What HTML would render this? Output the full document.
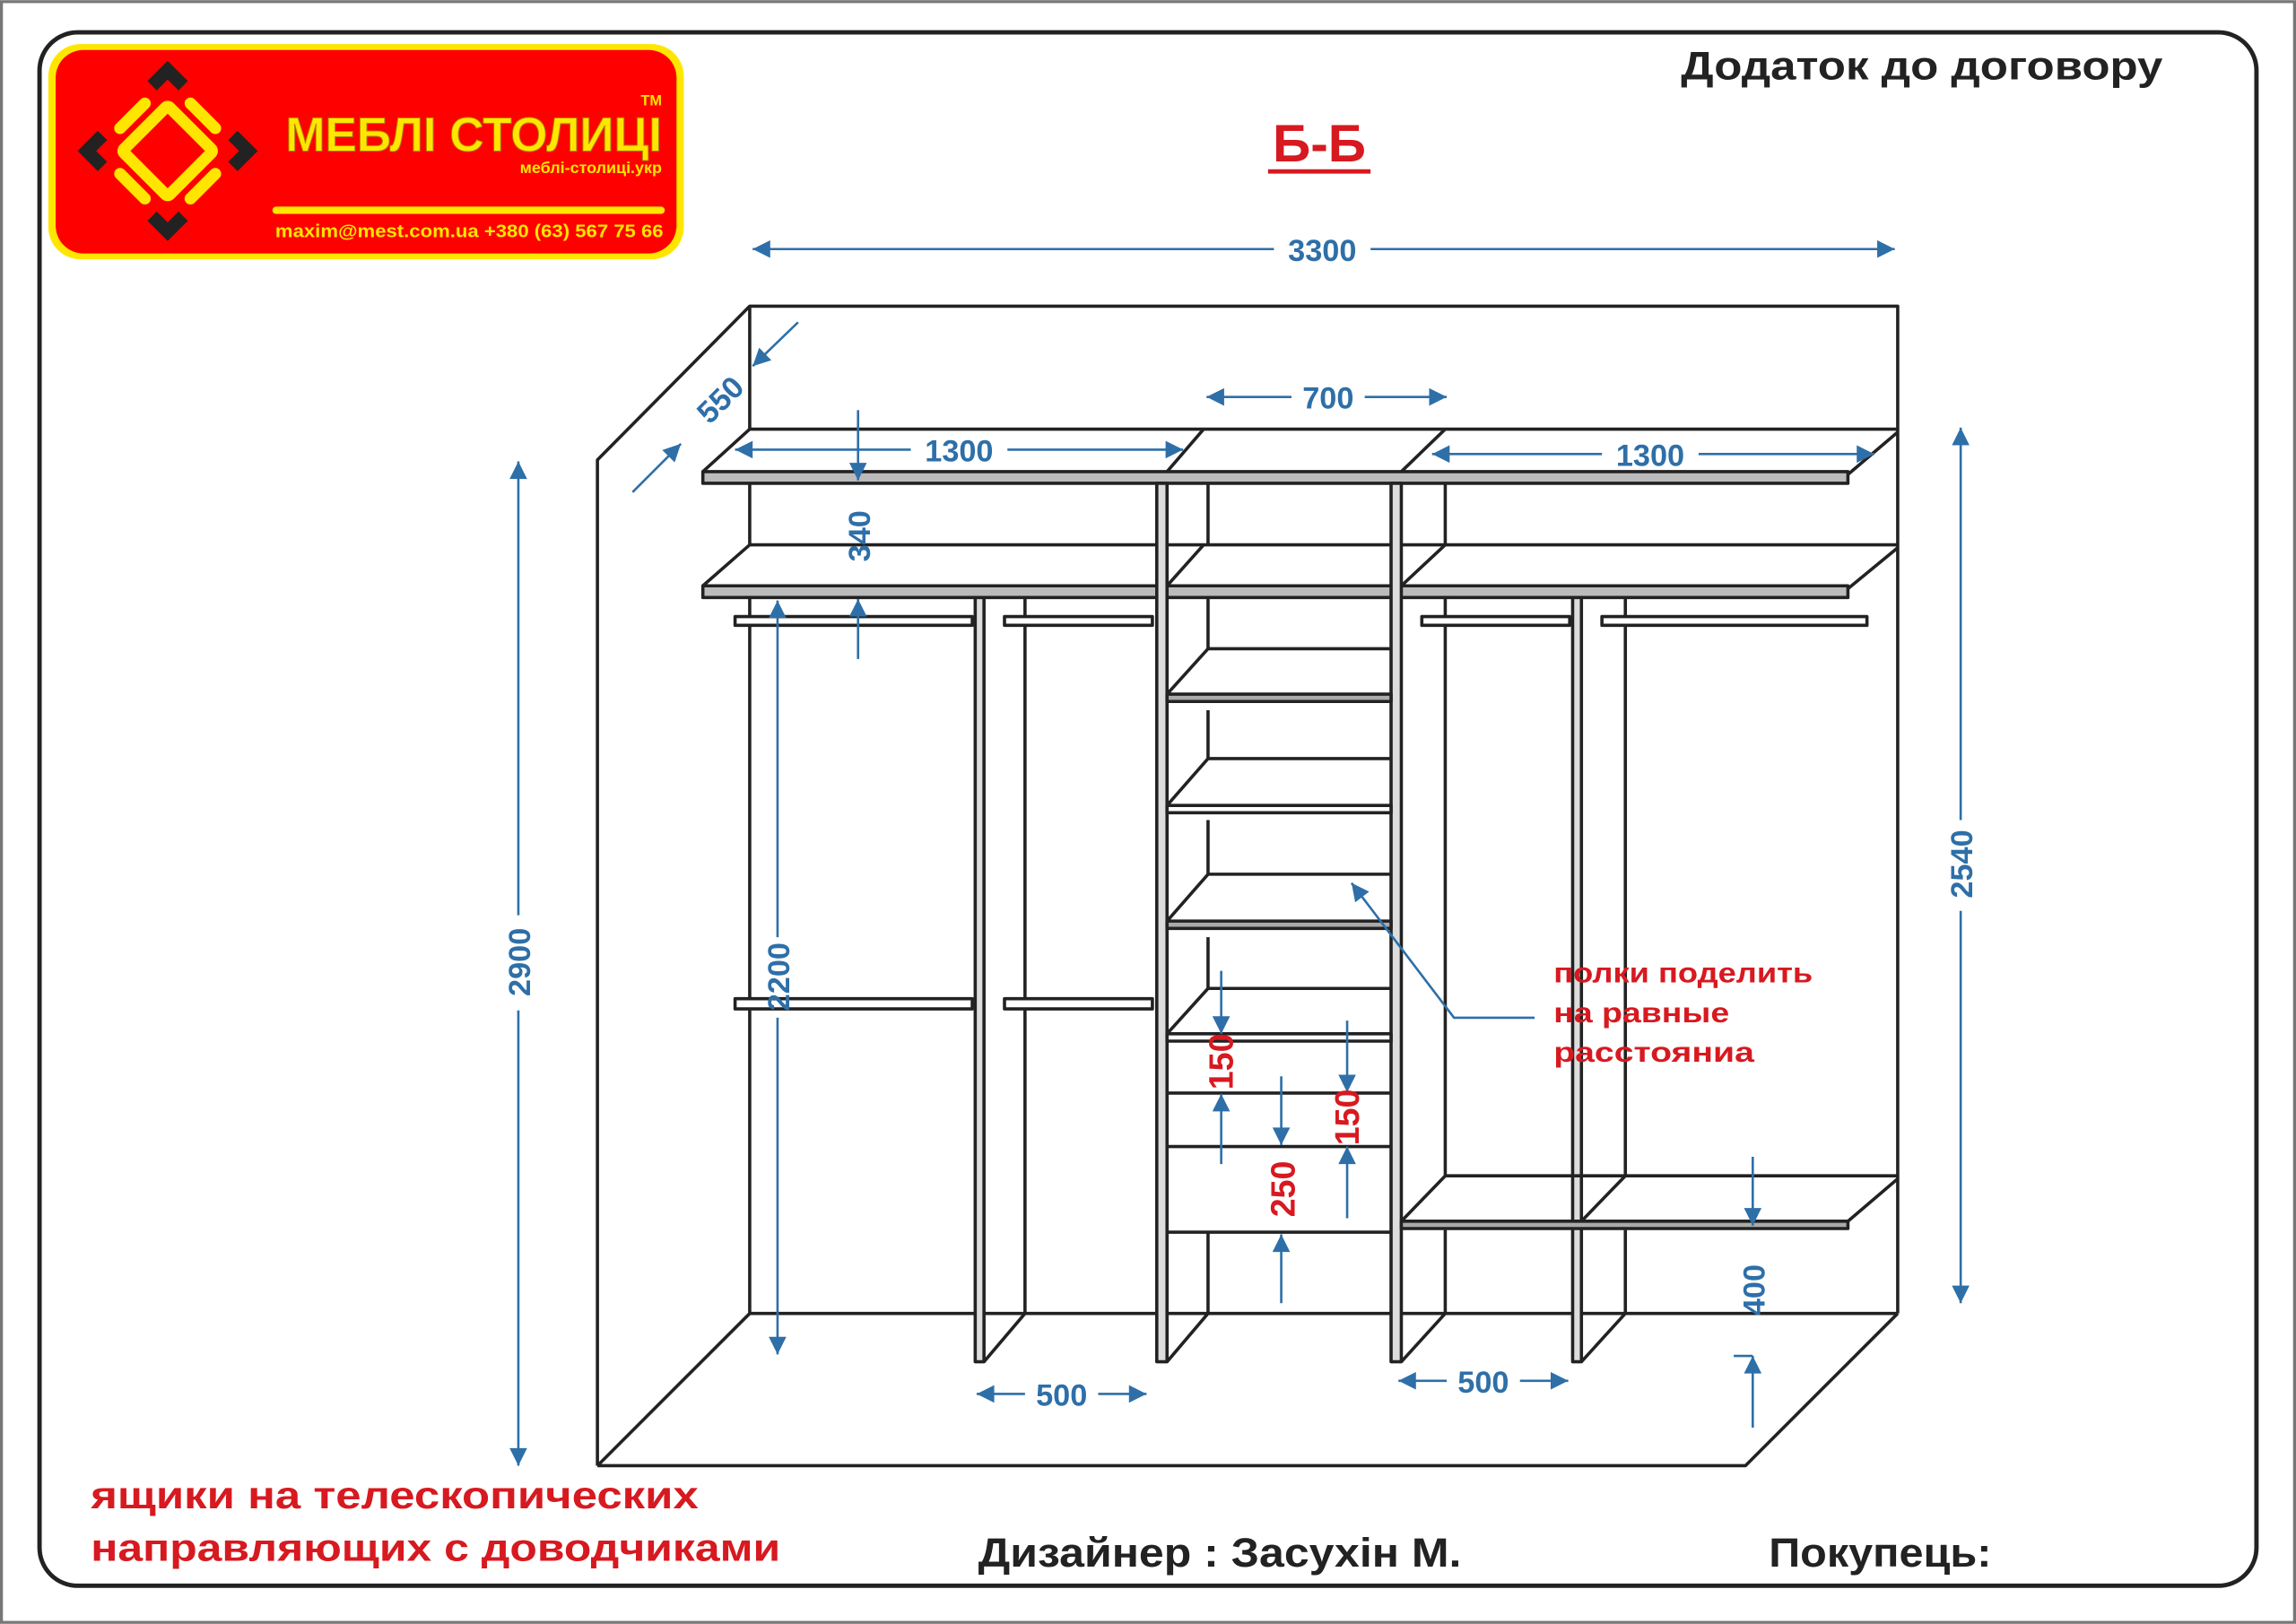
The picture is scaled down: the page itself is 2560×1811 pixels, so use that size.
<!DOCTYPE html>
<html><head><meta charset="utf-8"><style>
html,body{margin:0;padding:0;background:#fff;}
svg{display:block;}
text{font-family:"Liberation Sans","DejaVu Sans",sans-serif;font-weight:bold;}
</style></head><body>
<svg width="2560" height="1811" viewBox="0 0 1568 1109" xmlns="http://www.w3.org/2000/svg">
<defs>
<marker id="b" viewBox="0 0 10 10" refX="10" refY="5" markerWidth="18" markerHeight="12" orient="auto-start-reverse" markerUnits="userSpaceOnUse">
<path d="M0,0 L10,5 L0,10 z" fill="#2e6fa8"/></marker>
</defs>
<rect x="1" y="1" width="1566" height="1107" fill="#fff" stroke="#777" stroke-width="2"/>
<rect x="27" y="22" width="1514" height="1061" rx="26" fill="#fff" stroke="#222" stroke-width="3"/>

<!-- logo -->
<rect x="33" y="30" width="434" height="147" rx="22" fill="#ffe600"/>
<rect x="38" y="34" width="424" height="139" rx="19" fill="#ff0000"/>
<g transform="translate(114.5,103) rotate(45)">
<rect x="-22" y="-22" width="44" height="44" rx="2" fill="none" stroke="#ffe600" stroke-width="8"/>
<g stroke="#ffe600" stroke-width="8" stroke-linecap="round">
<line x1="-12" y1="-34" x2="12" y2="-34"/><line x1="-12" y1="34" x2="12" y2="34"/>
<line x1="-34" y1="-12" x2="-34" y2="12"/><line x1="34" y1="-12" x2="34" y2="12"/>
</g>
<g stroke="#222" stroke-width="9" fill="none">
<polyline points="-39,-24 -39,-39 -24,-39"/><polyline points="24,-39 39,-39 39,-24"/>
<polyline points="39,24 39,39 24,39"/><polyline points="-24,39 -39,39 -39,24"/>
</g>
</g>
<text x="452" y="103" font-size="33" fill="#ffe600" text-anchor="end" stroke="#b08000" stroke-width="0.6" textLength="257" lengthAdjust="spacingAndGlyphs">МЕБЛІ СТОЛИЦІ</text>
<text x="452" y="72" font-size="10" fill="#ffe600" text-anchor="end" font-weight="normal">TM</text>
<text x="452" y="118" font-size="11" fill="#ffe600" text-anchor="end">меблі-столиці.укр</text>
<rect x="186" y="141" width="268" height="5" rx="2.5" fill="#ffe600"/>
<text x="453" y="162" font-size="12.5" fill="#ffe600" text-anchor="end" textLength="265" lengthAdjust="spacingAndGlyphs">maxim@mest.com.ua  +380 (63) 567 75 66</text>

<!-- headings -->
<text x="1148" y="54" font-size="27" fill="#222" textLength="329" lengthAdjust="spacingAndGlyphs">Додаток до договору</text>
<text x="901" y="110" font-size="36" fill="#d71920" text-anchor="middle">Б-Б</text>
<line x1="866" y1="117" x2="936" y2="117" stroke="#d71920" stroke-width="3"/>

<!-- cabinet -->
<g stroke="#222" stroke-width="2.2" fill="none" stroke-linejoin="round">
<polyline points="408,1001 408,314 512,209 1296,209 1296,897"/>
<polyline points="408,1001 1192,1001 1296,897"/>
<line x1="512" y1="209" x2="512" y2="293"/>
<line x1="512" y1="330" x2="512" y2="372"/>
<line x1="512" y1="408" x2="512" y2="897"/>
<line x1="512" y1="897" x2="1296" y2="897"/>
<line x1="512" y1="897" x2="408" y2="1001"/>
<polyline points="512,293 480,322"/>
<line x1="512" y1="293" x2="1296" y2="293"/>
<polyline points="1296,295 1262,324"/>
<rect x="480" y="322" width="782" height="8" fill="#bbb"/>
<polyline points="512,372 480,400"/>
<line x1="512" y1="372" x2="1296" y2="372"/>
<polyline points="1296,374 1262,402"/>
<rect x="480" y="400" width="782" height="8" fill="#bbb"/>
<rect x="666" y="408" width="6" height="522" fill="#ddd"/>
<line x1="700" y1="408" x2="700" y2="897"/><line x1="700" y1="897" x2="672" y2="930"/>
<rect x="790" y="330" width="7" height="600" fill="#ddd"/>
<line x1="822" y1="293" x2="797" y2="322"/>
<line x1="825" y1="330" x2="825" y2="372"/>
<line x1="822" y1="372" x2="797" y2="400"/>
<line x1="825" y1="408" x2="825" y2="443"/>
<line x1="825" y1="485" x2="825" y2="518"/>
<line x1="825" y1="560" x2="825" y2="597"/>
<line x1="825" y1="640" x2="825" y2="675"/>
<line x1="825" y1="842" x2="825" y2="897"/>
<line x1="825" y1="897" x2="797" y2="930"/>
<rect x="950" y="330" width="7" height="600" fill="#ddd"/>
<line x1="987" y1="293" x2="957" y2="322"/>
<line x1="987" y1="330" x2="987" y2="372"/>
<line x1="987" y1="372" x2="957" y2="400"/>
<line x1="987" y1="408" x2="987" y2="803"/>
<line x1="987" y1="840" x2="987" y2="897"/>
<line x1="987" y1="897" x2="957" y2="930"/>
<rect x="1074" y="408" width="6" height="522" fill="#ddd"/>
<line x1="1110" y1="408" x2="1110" y2="803"/>
<line x1="1110" y1="840" x2="1110" y2="897"/>
<line x1="1110" y1="897" x2="1080" y2="930"/>
<line x1="825" y1="443" x2="950" y2="443"/><line x1="825" y1="443" x2="797" y2="474"/><rect x="797" y="474" width="153" height="5" fill="#aaa"/>
<line x1="825" y1="518" x2="950" y2="518"/><line x1="825" y1="518" x2="797" y2="550"/><rect x="797" y="550" width="153" height="5" fill="#fff"/>
<line x1="825" y1="597" x2="950" y2="597"/><line x1="825" y1="597" x2="797" y2="629"/><rect x="797" y="629" width="153" height="5" fill="#aaa"/>
<line x1="825" y1="675" x2="950" y2="675"/><line x1="825" y1="675" x2="797" y2="706"/><rect x="797" y="706" width="153" height="5" fill="#fff"/>
<line x1="797" y1="746.5" x2="950" y2="746.5"/>
<line x1="797" y1="783" x2="950" y2="783"/>
<line x1="797" y1="841.5" x2="950" y2="841.5"/>
<line x1="987" y1="803" x2="1296" y2="803"/>
<line x1="987" y1="803" x2="957" y2="834"/>
<line x1="1110" y1="803" x2="1080" y2="834"/>
<line x1="1296" y1="805" x2="1262" y2="834"/>
<rect x="957" y="834" width="305" height="5" fill="#aaa"/>
<rect x="502" y="421" width="162" height="6" fill="#fff"/>
<rect x="686" y="421" width="101" height="6" fill="#fff"/>
<rect x="971" y="421" width="101" height="6" fill="#fff"/>
<rect x="1094" y="421" width="181" height="6" fill="#fff"/>
<rect x="502" y="682" width="162" height="7" fill="#fff"/>
<rect x="686" y="682" width="101" height="7" fill="#fff"/>
</g>

<!-- dimensions -->
<g stroke="#2e6fa8" stroke-width="1.6" fill="none">
<line x1="514" y1="170" x2="870" y2="170" marker-start="url(#b)"/><line x1="936" y1="170" x2="1294" y2="170" marker-end="url(#b)"/>
<line x1="824" y1="271" x2="882" y2="271" marker-start="url(#b)"/><line x1="932" y1="271" x2="988" y2="271" marker-end="url(#b)"/>
<line x1="502" y1="307" x2="622" y2="307" marker-start="url(#b)"/><line x1="688" y1="307" x2="808" y2="307" marker-end="url(#b)"/>
<line x1="978" y1="310" x2="1094" y2="310" marker-start="url(#b)"/><line x1="1160" y1="310" x2="1280" y2="310" marker-end="url(#b)"/>
<line x1="545" y1="220" x2="514" y2="250" marker-end="url(#b)"/>
<line x1="432" y1="336" x2="465" y2="303" marker-end="url(#b)"/>
<line x1="586" y1="280" x2="586" y2="328" marker-end="url(#b)"/>
<line x1="586" y1="450" x2="586" y2="409" marker-end="url(#b)"/>
<line x1="531" y1="410" x2="531" y2="640" marker-start="url(#b)"/><line x1="531" y1="695" x2="531" y2="925" marker-end="url(#b)"/>
<line x1="354" y1="315" x2="354" y2="625" marker-start="url(#b)"/><line x1="354" y1="690" x2="354" y2="1001" marker-end="url(#b)"/>
<line x1="1339" y1="292" x2="1339" y2="560" marker-start="url(#b)"/><line x1="1339" y1="622" x2="1339" y2="890" marker-end="url(#b)"/>
<line x1="667" y1="952" x2="700" y2="952" marker-start="url(#b)"/><line x1="750" y1="952" x2="783" y2="952" marker-end="url(#b)"/>
<line x1="955" y1="943" x2="988" y2="943" marker-start="url(#b)"/><line x1="1038" y1="943" x2="1071" y2="943" marker-end="url(#b)"/>
<line x1="1197" y1="790" x2="1197" y2="837" marker-end="url(#b)"/>
<line x1="1197" y1="975" x2="1197" y2="926" marker-end="url(#b)"/>
<line x1="1184" y1="926" x2="1197" y2="926"/>
<line x1="834" y1="663" x2="834" y2="706" marker-end="url(#b)"/>
<line x1="834" y1="795" x2="834" y2="747" marker-end="url(#b)"/>
<line x1="875" y1="735" x2="875" y2="782" marker-end="url(#b)"/>
<line x1="875" y1="890" x2="875" y2="843" marker-end="url(#b)"/>
<line x1="920" y1="697" x2="920" y2="746" marker-end="url(#b)"/>
<line x1="920" y1="832" x2="920" y2="783" marker-end="url(#b)"/>
<polyline points="1048,695 993,695 923,603" marker-end="url(#b)"/>
</g>
<g fill="#2e6fa8" font-size="21" text-anchor="middle">
<text x="903" y="178">3300</text>
<text x="907" y="279">700</text>
<text x="655" y="315">1300</text>
<text x="1127" y="318">1300</text>
<text x="725" y="960" font-weight="normal">500</text>
<text x="1013" y="951" font-weight="normal">500</text>
<text transform="translate(497,278) rotate(-45)">550</text>
<text transform="translate(594,366) rotate(-90)">340</text>
<text transform="translate(539,667) rotate(-90)">2200</text>
<text transform="translate(362,657) rotate(-90)">2900</text>
<text transform="translate(1347,590) rotate(-90)">2540</text>
<text transform="translate(1205,881) rotate(-90)">400</text>
</g>
<g fill="#d71920" font-size="23" text-anchor="middle">
<text transform="translate(842,725) rotate(-90)">150</text>
<text transform="translate(884,812) rotate(-90)">250</text>
<text transform="translate(928,763) rotate(-90)">150</text>
</g>
<g fill="#d71920" font-size="19">
<text x="1061" y="671" textLength="177" lengthAdjust="spacingAndGlyphs">полки поделить</text>
<text x="1061" y="698" textLength="120" lengthAdjust="spacingAndGlyphs">на равные</text>
<text x="1061" y="725" textLength="137" lengthAdjust="spacingAndGlyphs">расстояниа</text>
</g>
<g fill="#d71920" font-size="26">
<text x="62" y="1030" textLength="415" lengthAdjust="spacingAndGlyphs">ящики на телескопических</text>
<text x="62" y="1066" textLength="471" lengthAdjust="spacingAndGlyphs">направляющих с доводчиками</text>
</g>
<g fill="#222" font-size="28">
<text x="668" y="1070" textLength="330" lengthAdjust="spacingAndGlyphs">Дизайнер : Засухін М.</text>
<text x="1208" y="1070" textLength="152" lengthAdjust="spacingAndGlyphs">Покупець:</text>
</g>
</svg>
</body></html>
